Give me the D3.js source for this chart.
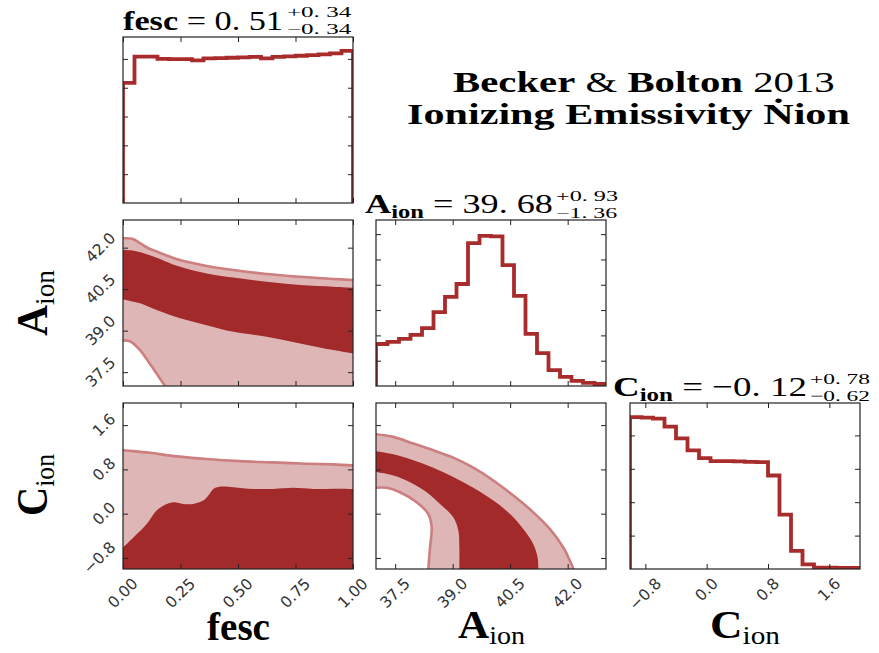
<!DOCTYPE html>
<html><head><meta charset="utf-8">
<script src="https://cdn.jsdelivr.net/npm/d3@7"></script>
<style>body{margin:0;background:#fff}</style>
</head><body>
<script>
// ---- parameter ranges and ticks ----
const fescDomain = [0, 1];
const aDomain = [37, 43];
const cDomain = [-1, 2];
const fescTicks = [0, 0.25, 0.5, 0.75, 1.0];
const fescTickLabels = ["0.00", "0.25", "0.50", "0.75", "1.00"];
const aTicks = [37.5, 39.0, 40.5, 42.0];
const aTickLabels = ["37.5", "39.0", "40.5", "42.0"];
const cTicks = [-0.8, 0.0, 0.8, 1.6];
const cTickLabels = ["\u22120.8", "0.0", "0.8", "1.6"];

// ---- marginal posteriors (20 equal-width bins over each range) ----
const fescHist = [4.17, 5.08, 5.08, 5.00, 4.99, 4.99, 4.95, 5.02, 5.03, 5.04, 5.05, 5.07, 5.02, 5.07, 5.09, 5.11, 5.13, 5.16, 5.19, 5.28];
const aHist = [1.66, 1.74, 1.86, 2.02, 2.29, 2.92, 3.52, 4.03, 5.65, 5.93, 5.91, 4.78, 3.56, 2.06, 1.30, 0.63, 0.36, 0.20, 0.12, 0.08];
const cHist = [4.55, 4.53, 4.50, 4.26, 3.91, 3.55, 3.32, 3.23, 3.23, 3.22, 3.21, 3.20, 2.80, 1.63, 0.54, 0.14, 0.04, 0.04, 0.03, 0.03];
const fescHistTicks = [1, 2, 3, 4, 5];
const aHistTicks = [1, 2, 3, 4, 5, 6];
const cHistTicks = [1, 2, 3, 4];
const fescHistTop = 5.76, aHistTop = 6.56, cHistTop = 4.97;

// ---- 2D credible regions: contour outlines as [x, y] points ----
// fesc vs A_ion
const faOuterTop = [[0, 42.34], [0.04, 42.32], [0.074, 42.16], [0.11, 41.98], [0.146, 41.86], [0.248, 41.55], [0.364, 41.34], [0.48, 41.19], [0.625, 41.05], [0.77, 40.95], [0.914, 40.87], [1.0, 40.83]];
const faOuterBottom = [[0, 38.64], [0.03, 38.62], [0.074, 38.30], [0.117, 37.80], [0.146, 37.45], [0.183, 37.0], [0.22, 36.6], [0.5, 36.2], [1.0, 36.0]];
const faInnerTop = [[0, 41.92], [0.04, 41.90], [0.117, 41.73], [0.248, 41.31], [0.364, 41.07], [0.48, 40.92], [0.625, 40.77], [0.77, 40.65], [0.914, 40.59], [1.0, 40.55]];
const faInnerBottom = [[0, 40.13], [0.074, 39.99], [0.146, 39.75], [0.248, 39.45], [0.364, 39.20], [0.48, 38.96], [0.625, 38.78], [0.77, 38.54], [0.914, 38.30], [1.0, 38.18]];
// fesc vs C_ion (both regions open towards the lower edge)
const fcOuterTop = [[0, 1.145], [0.045, 1.13], [0.117, 1.10], [0.233, 1.036], [0.364, 0.988], [0.509, 0.95], [0.654, 0.927], [0.8, 0.903], [0.914, 0.89], [1.0, 0.873]];
const fcInnerTop = [[0, -0.612], [0.045, -0.43], [0.103, -0.188], [0.146, 0.055], [0.175, 0.145], [0.219, 0.206], [0.262, 0.176], [0.306, 0.176], [0.349, 0.236], [0.371, 0.327], [0.393, 0.448], [0.429, 0.49], [0.48, 0.479], [0.567, 0.448], [0.654, 0.448], [0.741, 0.467], [0.827, 0.448], [0.914, 0.452], [1.0, 0.448]];
// A_ion vs C_ion (curved bands)
const acOuterFar = [[37.0, 1.436], [37.452, 1.388], [37.974, 1.267], [38.496, 1.145], [39.017, 1.012], [39.539, 0.830], [40.061, 0.600], [40.583, 0.327], [41.104, 0.024], [41.539, -0.279], [41.887, -0.612], [42.061, -0.855], [42.148, -1.0], [42.16, -1.1]];
const acOuterNear = [[37.0, 0.467], [37.278, 0.467], [37.626, 0.388], [38.061, 0.206], [38.365, -0.006], [38.452, -0.248], [38.409, -0.612], [38.365, -1.0], [38.36, -1.1]];
const acInnerFar = [[37.0, 1.127], [37.452, 1.073], [37.974, 0.964], [38.496, 0.830], [39.017, 0.661], [39.539, 0.467], [40.061, 0.236], [40.496, -0.006], [40.843, -0.279], [41.104, -0.552], [41.217, -0.794], [41.235, -1.0], [41.24, -1.1]];
const acInnerNear = [[37.0, 0.752], [37.452, 0.691], [37.887, 0.570], [38.322, 0.388], [38.670, 0.176], [39.017, -0.067], [39.148, -0.309], [39.174, -0.612], [39.174, -1.0], [39.174, -1.1]];

// ---- layout ----
const W = 879, H = 653;
const colX = [123, 376, 630], rowY = [37, 220, 403], PW = 230, PH = 166;
const darkFill = "#a32a2a", lightFill = "#dfb6b6", edgeColor = "#cd7e7e", histColor = "#a82c2c", ink = "#222";
const tickFont = 15.5;

const svg = d3.select("body").append("svg").attr("width", W).attr("height", H)
  .style("font-family", "'Liberation Serif', 'DejaVu Serif', serif");
const defs = svg.append("defs");

const xFesc = d3.scaleLinear(fescDomain, [0, PW]);
const xA = d3.scaleLinear(aDomain, [0, PW]);
const xC = d3.scaleLinear(cDomain, [0, PW]);
const yA = d3.scaleLinear(aDomain, [PH, 0]);
const yC = d3.scaleLinear(cDomain, [PH, 0]);

function panel(c, r) {
  const id = `clip-${c}-${r}`;
  defs.append("clipPath").attr("id", id).append("rect").attr("width", PW).attr("height", PH);
  const g = svg.append("g").attr("transform", `translate(${colX[c]},${rowY[r]})`);
  const plot = g.append("g").attr("clip-path", `url(#${id})`);
  return { g, plot };
}

function frameAndTicks(g, xs, xt, ys, yt) {
  const mk = (axis, tr) => {
    const a = g.append("g").attr("transform", tr).call(axis.tickSize(-5).tickFormat(""));
    a.select(".domain").remove();
    a.selectAll(".tick line").attr("stroke", ink).attr("stroke-width", 1);
  };
  mk(d3.axisBottom(xs).tickValues(xt), `translate(0,${PH})`);
  mk(d3.axisTop(xs).tickValues(xt), `translate(0,0)`);
  mk(d3.axisLeft(ys).tickValues(yt), `translate(0,0)`);
  mk(d3.axisRight(ys).tickValues(yt), `translate(${PW},0)`);
  g.append("rect").attr("width", PW).attr("height", PH).attr("fill", "none")
    .attr("stroke", ink).attr("stroke-width", 1.2);
}

function tickLabel(g, str) {
  return g.append("text").text(str).attr("font-family", "'DejaVu Sans', sans-serif")
    .attr("font-size", tickFont).attr("fill", "#333")
    .attr("text-anchor", "middle").attr("dominant-baseline", "central");
}
function xTickLabels(g, xs, ticks, labels) {
  ticks.forEach((t, i) => {
    const tx = tickLabel(g, labels[i]);
    const half = (tx.node().getComputedTextLength() + 0.75 * tickFont) / (2 * Math.SQRT2);
    const cx = xs(t), cy = PH + 8 + half;
    tx.attr("x", cx).attr("y", cy).attr("transform", `rotate(-45,${cx},${cy})`);
  });
}
function yTickLabels(g, ys, ticks, labels) {
  ticks.forEach((t, i) => {
    const tx = tickLabel(g, labels[i]);
    const half = (tx.node().getComputedTextLength() + 0.75 * tickFont) / (2 * Math.SQRT2);
    const cx = -6 - half, cy = ys(t);
    tx.attr("x", cx).attr("y", cy).attr("transform", `rotate(-45,${cx},${cy})`);
  });
}

function histogram(plot, xs, domain, values, ys) {
  const n = values.length, step = (domain[1] - domain[0]) / n;
  const pts = [[domain[0], 0]];
  values.forEach((v, i) => { pts.push([domain[0] + i * step, v]); pts.push([domain[0] + (i + 1) * step, v]); });
  pts.push([domain[1], 0]);
  plot.append("path").attr("d", d3.line().x(d => xs(d[0])).y(d => ys(d[1]))(pts))
    .attr("fill", "none").attr("stroke", histColor).attr("stroke-width", 3.8)
    .attr("stroke-linejoin", "miter");
}

const smooth = (xs, ys) => d3.line().x(d => xs(d[0])).y(d => ys(d[1])).curve(d3.curveCatmullRom.alpha(0.5));
function band(xs, ys, a, b) {
  const ln = smooth(xs, ys);
  return ln(a) + "L" + ln(b.slice().reverse()).slice(1) + "Z";
}
function edge(plot, xs, ys, pts) {
  plot.append("path").attr("d", smooth(xs, ys)(pts)).attr("fill", "none")
    .attr("stroke", edgeColor).attr("stroke-width", 2.6);
}

// ---- row 0: fesc marginal ----
{
  const p = panel(0, 0);
  const ys = d3.scaleLinear([0, fescHistTop], [PH, 0]);
  histogram(p.plot, xFesc, fescDomain, fescHist, ys);
  frameAndTicks(p.g, xFesc, fescTicks, ys, fescHistTicks);
}
// ---- row 1: fesc vs A_ion, A_ion marginal ----
{
  const p = panel(0, 1);
  p.plot.append("path").attr("d", band(xFesc, yA, faOuterTop, faOuterBottom)).attr("fill", lightFill);
  p.plot.append("path").attr("d", band(xFesc, yA, faInnerTop, faInnerBottom)).attr("fill", darkFill);
  edge(p.plot, xFesc, yA, faOuterTop);
  edge(p.plot, xFesc, yA, faOuterBottom);
  frameAndTicks(p.g, xFesc, fescTicks, yA, aTicks);
  yTickLabels(p.g, yA, aTicks, aTickLabels);
}
{
  const p = panel(1, 1);
  const ys = d3.scaleLinear([0, aHistTop], [PH, 0]);
  histogram(p.plot, xA, aDomain, aHist, ys);
  frameAndTicks(p.g, xA, aTicks, ys, aHistTicks);
}
// ---- row 2: C_ion against everything ----
{
  const p = panel(0, 2);
  const area = d3.area().x(d => xFesc(d[0])).y0(PH).y1(d => yC(d[1])).curve(d3.curveCatmullRom.alpha(0.5));
  p.plot.append("path").attr("d", area(fcOuterTop)).attr("fill", lightFill);
  p.plot.append("path").attr("d", area(fcInnerTop)).attr("fill", darkFill);
  edge(p.plot, xFesc, yC, fcOuterTop);
  frameAndTicks(p.g, xFesc, fescTicks, yC, cTicks);
  yTickLabels(p.g, yC, cTicks, cTickLabels);
  xTickLabels(p.g, xFesc, fescTicks, fescTickLabels);
}
{
  const p = panel(1, 2);
  p.plot.append("path").attr("d", band(xA, yC, acOuterFar, acOuterNear)).attr("fill", lightFill);
  p.plot.append("path").attr("d", band(xA, yC, acInnerFar, acInnerNear)).attr("fill", darkFill);
  edge(p.plot, xA, yC, acOuterFar);
  edge(p.plot, xA, yC, acOuterNear);
  frameAndTicks(p.g, xA, aTicks, yC, cTicks);
  xTickLabels(p.g, xA, aTicks, aTickLabels);
}
{
  const p = panel(2, 2);
  const ys = d3.scaleLinear([0, cHistTop], [PH, 0]);
  histogram(p.plot, xC, cDomain, cHist, ys);
  frameAndTicks(p.g, xC, cTicks, ys, cHistTicks);
  xTickLabels(p.g, xC, cTicks, cTickLabels);
}

// ---- text ----
function fit(sel, x0, x1) {
  const b = sel.node().getBBox();
  const s = (x1 - x0) / b.width;
  sel.attr("transform", `translate(${x0},0) scale(${s},1) translate(${-b.x},0)`);
  return sel;
}
// parts: {t, bold, size, dy}
function mathText(parts, x0, x1, y, size) {
  const t = svg.append("text").attr("y", y).attr("font-size", size).attr("fill", "#000");
  parts.forEach(p => {
    const s = t.append("tspan").text(p.t).attr("font-weight", p.bold ? "bold" : "normal");
    if (p.size) s.attr("font-size", p.size);
    if (p.dy) s.attr("dy", p.dy);
  });
  return fit(t, x0, x1);
}
function script(str, x0, x1, y) {
  const t = svg.append("text").attr("y", y).attr("font-size", 15).attr("fill", "#000").text(str);
  return fit(t, x0, x1);
}

// marginal summaries
mathText([{ t: "fesc", bold: true }, { t: " = 0. 51" }], 123, 283, 30, 28);
script("+0. 34", 287, 352, 17);
script("\u22120. 34", 287, 352, 34);

mathText([{ t: "A", bold: true }, { t: "ion", bold: true, size: 19, dy: 5 }, { t: " = 39. 68", dy: -5 }], 365, 553, 213, 28);
script("+0. 93", 556, 618, 201);
script("\u22121. 36", 556, 618, 218);

mathText([{ t: "C", bold: true }, { t: "ion", bold: true, size: 19, dy: 5 }, { t: " = \u22120. 12", dy: -5 }], 613, 807, 396, 28);
script("+0. 78", 810, 870, 384);
script("\u22120. 62", 810, 870, 401);

// figure title
mathText([{ t: "Becker", bold: true }, { t: " & " }, { t: "Bolton", bold: true }, { t: " 2013" }], 453, 835, 92, 29);
mathText([{ t: "Ionizing Emissivity \u1E44ion", bold: true }], 407, 850, 124, 29);

// axis labels
function axisLabel(main, sub, x0, x1, y) {
  const t = svg.append("text").attr("y", y).attr("font-size", 40).attr("fill", "#000");
  t.append("tspan").text(main).attr("font-weight", "bold");
  if (sub) t.append("tspan").text(sub).attr("font-size", 26).attr("dy", 6);
  return fit(t, x0, x1);
}
axisLabel("fesc", null, 207, 270, 640);
axisLabel("A", "ion", 458, 525, 638);
axisLabel("C", "ion", 710, 780, 638);

function sideLabel(main, sub, cy, span) {
  const g = svg.append("g").attr("transform", `translate(47,${cy}) rotate(-90)`);
  const t = g.append("text").attr("y", 0).attr("font-size", 44).attr("fill", "#000");
  t.append("tspan").text(main).attr("font-weight", "bold");
  t.append("tspan").text(sub).attr("font-size", 28).attr("dy", 7);
  fit(t, -span / 2, span / 2);
}
sideLabel("A", "ion", 303, 66);
sideLabel("C", "ion", 485, 62);
</script>
</body></html>
